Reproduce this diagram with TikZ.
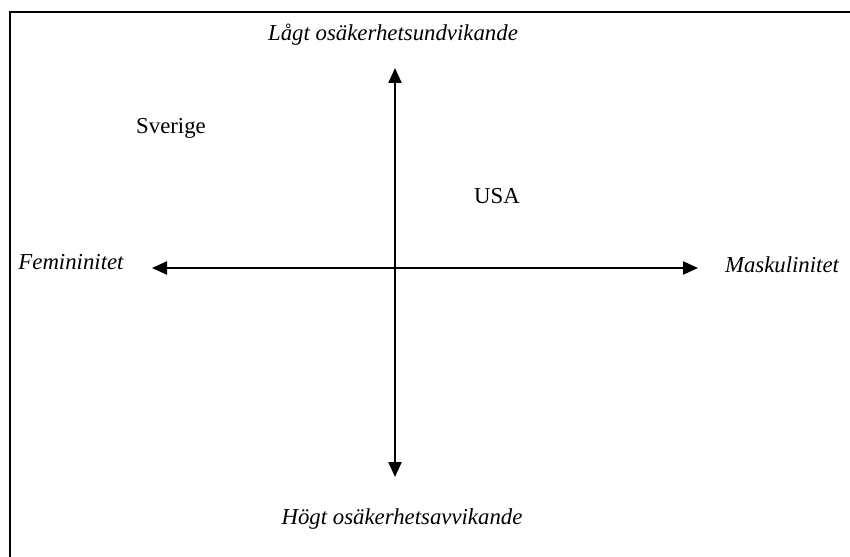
\documentclass[tikz,border=0pt]{standalone}
\usepackage{fontspec}
\setmainfont{Liberation Serif}
\usetikzlibrary{arrows.meta}
\begin{document}
\begin{tikzpicture}[x=0.5pt, y=-0.5pt, every node/.style={font=\fontsize{11.4}{13}\selectfont}, axis/.style={line width=1.1pt, {Triangle[length=7.5pt,width=6.5pt]}-{Triangle[length=7.5pt,width=6.5pt]}}]
            \clip (0,0) rectangle (850,556);

            % ram
            \draw[line width=1pt] (10,580) -- (10,12) -- (870,12);

            % axlarnas ändpunkter
            \coordinate (fem) at (152,268);
            \coordinate (mask) at (698,268);
            \coordinate (lagt) at (395,68);
            \coordinate (hogt) at (395,477);

            \draw[axis] (fem) -- (mask);
            \draw[axis] (lagt) -- (hogt);

            % etiketter
            \node (lagtlbl) at (393,35) {\itshape Lågt osäkerhetsundvikande};
            \node (hogtlbl) at (402,519) {\itshape Högt osäkerhetsavvikande};
            \node (femlbl) at (71,262) {\itshape Femininitet};
            \node (masklbl) at (782,265) {\itshape Maskulinitet};

            % länder
            \node (sverige) at (171,128) {Sverige};
            \node (usa) at (497,196) {USA};
        \end{tikzpicture}
\end{document}
